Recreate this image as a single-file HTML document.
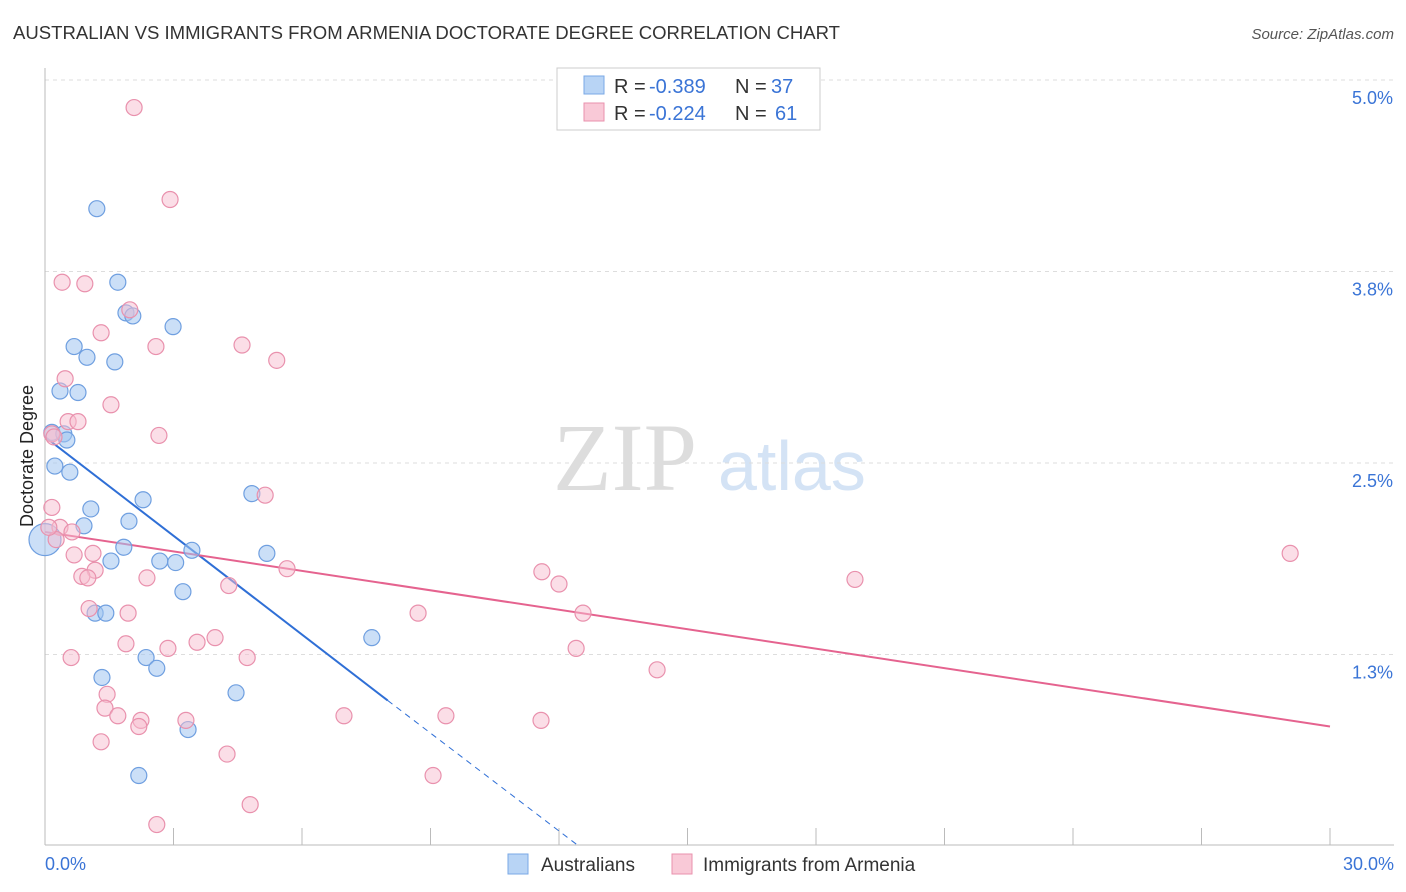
<!DOCTYPE html>
<html><head><meta charset="utf-8"><style>
body{margin:0;background:#fff;font-family:"Liberation Sans",sans-serif}
svg{display:block}
</style></head><body>
<svg id="chart" width="1406" height="892">
<text x="13" y="39" font-size="18" fill="#333" textLength="827" lengthAdjust="spacingAndGlyphs">AUSTRALIAN VS IMMIGRANTS FROM ARMENIA DOCTORATE DEGREE CORRELATION CHART</text>
<text x="1394" y="39" font-size="15" fill="#555" font-style="italic" text-anchor="end">Source: ZipAtlas.com</text>
<text x="33" y="456" font-size="18" fill="#222" text-anchor="middle" transform="rotate(-90 33 456)">Doctorate Degree</text>
<g>
<text x="553" y="490" font-family="Liberation Serif" font-size="96" fill="#ddd">ZIP</text>
<text x="718" y="490" font-size="70" fill="#d4e3f5">atlas</text>
</g>
<g id="grid"></g><g id="axes"></g><g id="lines"></g><g id="pts"></g>
<g>
<rect x="557" y="68" width="263" height="62" fill="#fff" stroke="#ccc"/>
<rect x="584" y="76" width="20" height="18" fill="#b8d4f5" stroke="#7aa8e6"/>
<rect x="584" y="103" width="20" height="18" fill="#f9c9d7" stroke="#e991ad"/>
<text x="614" y="93" font-size="20" fill="#333">R =</text>
<text x="649" y="93" font-size="20" fill="#3a74d6">-0.389</text>
<text x="735" y="93" font-size="20" fill="#333">N =</text>
<text x="771" y="93" font-size="20" fill="#3a74d6">37</text>
<text x="614" y="120" font-size="20" fill="#333">R =</text>
<text x="649" y="120" font-size="20" fill="#3a74d6">-0.224</text>
<text x="735" y="120" font-size="20" fill="#333">N =</text>
<text x="775" y="120" font-size="20" fill="#3a74d6">61</text>
</g>
<g>
<rect x="508" y="854" width="20" height="20" fill="#b8d4f5" stroke="#7aa8e6"/>
<text x="541" y="871" font-size="19" fill="#333">Australians</text>
<rect x="672" y="854" width="20" height="20" fill="#f9c9d7" stroke="#e991ad"/>
<text x="703" y="871" font-size="19" fill="#333">Immigrants from Armenia</text>
</g>
</svg>
<script>
const yTicks=[5.0,3.75,2.5,1.25];
const yTickLabels=["5.0%","3.8%","2.5%","1.3%"];
const xTickCount=10;
const blueX=[1.21,1.7,1.89,2.05,2.99,0.68,0.98,1.63,0.35,0.77,0.16,0.44,0.51,0.23,0.58,2.29,4.83,1.07,1.96,0.91,1.84,3.43,5.18,1.54,2.68,3.05,3.22,1.17,1.42,7.63,2.36,2.61,1.33,4.46,3.34,2.19,0];
const blueY=[4.16,3.68,3.48,3.46,3.39,3.26,3.19,3.16,2.97,2.96,2.7,2.69,2.65,2.48,2.44,2.26,2.3,2.2,2.12,2.09,1.95,1.93,1.91,1.86,1.86,1.85,1.66,1.52,1.52,1.36,1.23,1.16,1.1,1.0,0.76,0.46,2.0];
const pinkX=[2.08,2.92,0.4,0.93,1.98,1.31,2.59,4.6,5.41,0.47,1.54,0.54,0.77,2.66,0.16,0.21,0.16,0.35,0.63,0.26,0.68,1.12,5.14,1.17,0.86,1.0,2.38,5.65,11.6,12.0,18.91,29.07,4.29,1.03,1.94,8.71,12.56,3.97,3.55,1.89,2.87,12.4,0.61,4.72,14.29,1.45,1.4,1.7,2.24,2.19,3.29,6.98,9.36,11.58,1.31,4.25,9.06,4.79,2.61,0.09];
const pinkY=[4.82,4.22,3.68,3.67,3.5,3.35,3.26,3.27,3.17,3.05,2.88,2.77,2.77,2.68,2.69,2.67,2.21,2.08,2.05,2.0,1.9,1.91,2.29,1.8,1.76,1.75,1.75,1.81,1.79,1.71,1.74,1.91,1.7,1.55,1.52,1.52,1.52,1.36,1.33,1.32,1.29,1.29,1.23,1.23,1.15,0.99,0.9,0.85,0.82,0.78,0.82,0.85,0.85,0.82,0.68,0.6,0.46,0.27,0.14,2.08];
const blueFit=[0,2.67,8.0,0.95];
const blueDashEnd=[12.46,0];
const pinkFit=[0,2.05,30,0.78];
const X=v=>45+v/30*1285, Y=v=>846-v*153.2;
const NS="http://www.w3.org/2000/svg";
function mk(parent,tag,attrs){const e=document.createElementNS(NS,tag);for(const k in attrs)e.setAttribute(k,attrs[k]);document.getElementById(parent).appendChild(e);return e;}
yTicks.forEach((t,i)=>{
 const g=mk('grid','line',{x1:45,x2:1394,y1:Y(t),y2:Y(t),stroke:'#ddd','stroke-dasharray':'4,4'});
 
 
 const l=mk('axes','text',{x:1393,y:Y(t)+24,'font-size':18,fill:'#3a74d6','text-anchor':'end'});
 l.textContent=yTickLabels[i];
 
 
});
const gt=mk('grid','line',{x1:45,x2:1394,y1:80,y2:80,stroke:'#ddd','stroke-dasharray':'4,4'});


const ax=mk('axes','line',{x1:45,x2:1394,y1:845,y2:845,stroke:'#bbb'});


const ay=mk('axes','line',{x1:45,x2:45,y1:68,y2:845,stroke:'#bbb'});


for(let i=1;i<=xTickCount;i++){const t=mk('axes','line',{x1:X(i*3),x2:X(i*3),y1:828,y2:845,stroke:'#bbb'});
 
 }
const x0=mk('axes','text',{x:45,y:870,'font-size':18,fill:'#3a74d6'});x0.textContent='0.0%';


const x1=mk('axes','text',{x:1394,y:870,'font-size':18,fill:'#3a74d6','text-anchor':'end'});x1.textContent='30.0%';


blueX.forEach((v,i)=>{const c=mk('pts','circle',{cx:X(v),cy:Y(blueY[i]),r:i==blueX.length-1?16:8,fill:'rgba(160,196,240,0.55)',stroke:'#6f9fe0','stroke-width':1.2});
 
 });
pinkX.forEach((v,i)=>{const c=mk('pts','circle',{cx:X(v),cy:Y(pinkY[i]),r:8,fill:'rgba(248,190,208,0.5)',stroke:'#e991ad','stroke-width':1.2});
 
 });
const bl=mk('lines','line',{x1:X(blueFit[0]),y1:Y(blueFit[1]),x2:X(blueFit[2]),y2:Y(blueFit[3]),stroke:'#2f6fd6','stroke-width':2});


const bd=mk('lines','line',{x1:X(blueFit[2]),y1:Y(blueFit[3]),x2:X(blueDashEnd[0]),y2:Y(blueDashEnd[1]),stroke:'#2f6fd6','stroke-width':1,'stroke-dasharray':'6,5'});


const pl=mk('lines','line',{x1:X(pinkFit[0]),y1:Y(pinkFit[1]),x2:X(pinkFit[2]),y2:Y(pinkFit[3]),stroke:'#e5638f','stroke-width':2});


</script>
</body></html>
